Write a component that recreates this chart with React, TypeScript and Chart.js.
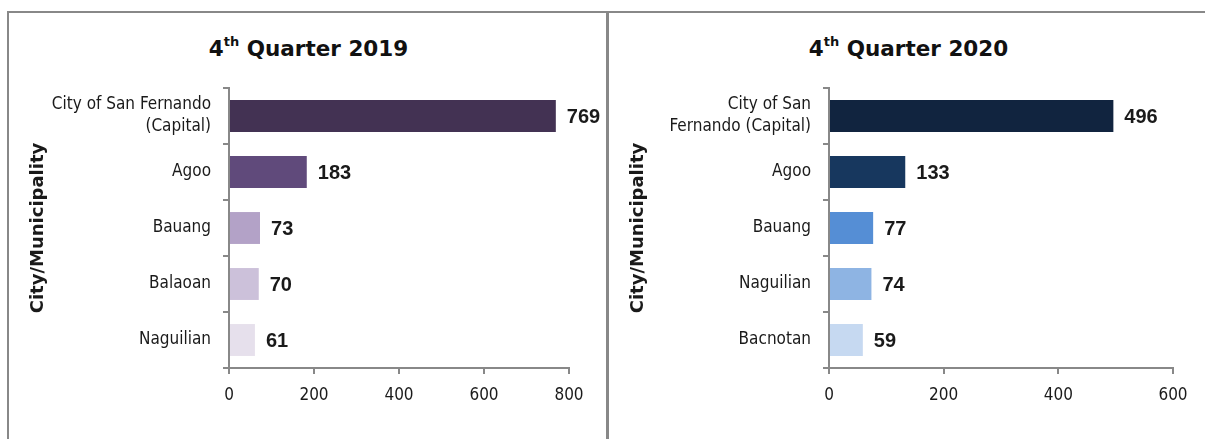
import React, { useEffect, useRef } from "react";
import { Chart, registerables } from "chart.js";
Chart.register(...registerables);

// ---- Data ----
const categories2019: (string | string[])[] = [["City of San Fernando", "(Capital)"], "Agoo", "Bauang", "Balaoan", "Naguilian"];
const values2019 = [769, 183, 73, 70, 61];
const colors2019 = ["#433253", "#604A7B", "#B3A2C7", "#CCC1DA", "#E6E0EC"];
const xMax2019 = 800;
const xStep2019 = 200;

const categories2020: (string | string[])[] = [["City of San", "Fernando (Capital)"], "Agoo", "Bauang", "Naguilian", "Bacnotan"];
const values2020 = [496, 133, 77, 74, 59];
const colors2020 = ["#11243F", "#17375E", "#558ED5", "#8EB4E3", "#C6D9F1"];
const xMax2020 = 600;
const xStep2020 = 200;

const yTitle = "City/Municipality";
const titleYear2019 = "2019";
const titleYear2020 = "2020";

const AXIS = "#888888";
const TEXT = "#1a1a1a";
const TICK_FONT = "'DejaVu Sans Condensed', sans-serif";
const WIDE_BOLD = "'DejaVu Sans', sans-serif";

const valueLabelPlugin = {
  id: "valueLabels",
  afterDatasetsDraw(chart: any) {
    const ctx = chart.ctx;
    const meta = chart.getDatasetMeta(0);
    const data = chart.data.datasets[0].data;
    ctx.save();
    ctx.font = "bold 20px 'Liberation Sans', Arial, sans-serif";
    ctx.fillStyle = TEXT;
    ctx.textAlign = "left";
    ctx.textBaseline = "middle";
    meta.data.forEach((bar: any, i: number) => {
      ctx.fillText(String(data[i]), bar.x + 11, bar.y + 1);
    });
    ctx.restore();
  },
};

type PanelProps = {
  left: number;
  year: string;
  labels: (string | string[])[];
  values: number[];
  colors: string[];
  max: number;
  step: number;
  padRight: number;
};

function Panel({ left, year, labels, values, colors, max, step, padRight }: PanelProps) {
  const ref = useRef<HTMLCanvasElement | null>(null);
  useEffect(() => {
    if (!ref.current) return;
    const chart = new Chart(ref.current, {
      type: "bar",
      data: {
        labels: labels as any,
        datasets: [
          {
            data: values,
            backgroundColor: colors,
            borderWidth: 0,
            barPercentage: 0.57,
            categoryPercentage: 1,
          },
        ],
      },
      options: {
        indexAxis: "y",
        responsive: false,
        animation: false,
        devicePixelRatio: 1,
        layout: { padding: { left: 0, top: 75, right: padRight, bottom: 0 } },
        plugins: { legend: { display: false }, tooltip: { enabled: false }, title: { display: false } },
        scales: {
          x: {
            min: 0,
            max: max,
            ticks: {
              stepSize: step,
              color: TEXT,
              padding: 11,
              font: { family: TICK_FONT, size: 17, lineHeight: 1.2 },
            },
            grid: { drawOnChartArea: false, drawTicks: true, tickLength: 6, color: AXIS, lineWidth: 2 },
            border: { color: AXIS, width: 2 },
            afterFit: (scale: any) => {
              scale.height = 71;
            },
          },
          y: {
            ticks: {
              color: TEXT,
              padding: 12,
              font: { family: TICK_FONT, size: 17, lineHeight: 1.3 },
            },
            grid: { drawOnChartArea: false, drawTicks: true, tickLength: 6, color: AXIS, lineWidth: 2, offset: true },
            border: { color: AXIS, width: 2 },
            title: {
              display: true,
              text: yTitle,
              color: TEXT,
              padding: { top: 19, bottom: 0 },
              font: { family: WIDE_BOLD, size: 18, weight: "bold" },
            },
            afterFit: (scale: any) => {
              scale.width = 220;
            },
          },
        },
      },
      plugins: [valueLabelPlugin],
    } as any);
    return () => chart.destroy();
  }, []);

  return (
    <div
      style={{
        position: "absolute",
        left: left,
        top: 11,
        width: 601,
        height: 440,
        borderLeft: `2px solid ${AXIS}`,
        borderTop: `2px solid ${AXIS}`,
        borderRight: `2px solid ${AXIS}`,
        boxSizing: "border-box",
      }}
    >
      <div
        style={{
          position: "absolute",
          left: 0,
          width: 599,
          top: 22,
          textAlign: "center",
          fontFamily: WIDE_BOLD,
          fontWeight: "bold",
          fontSize: 21.5,
          lineHeight: "28px",
          color: "#111",
        }}
      >
        4<sup style={{ fontSize: 13, verticalAlign: "top", lineHeight: "16px", position: "relative", top: -1 }}>th</sup> Quarter {year}
      </div>
      <canvas ref={ref} width={597} height={426} style={{ position: "absolute", left: 0, top: 0, display: "block" }} />
    </div>
  );
}

export default function App() {
  return (
    <div
      style={{
        position: "absolute",
        left: 0,
        top: 0,
        width: 1205,
        height: 439,
        overflow: "hidden",
        background: "#fff",
      }}
    >
      <Panel left={7} year={titleYear2019} labels={categories2019} values={values2019} colors={colors2019} max={xMax2019} step={xStep2019} padRight={37} />
      <Panel left={607} year={titleYear2020} labels={categories2020} values={values2020} colors={colors2020} max={xMax2020} step={xStep2020} padRight={33} />
    </div>
  );
}
